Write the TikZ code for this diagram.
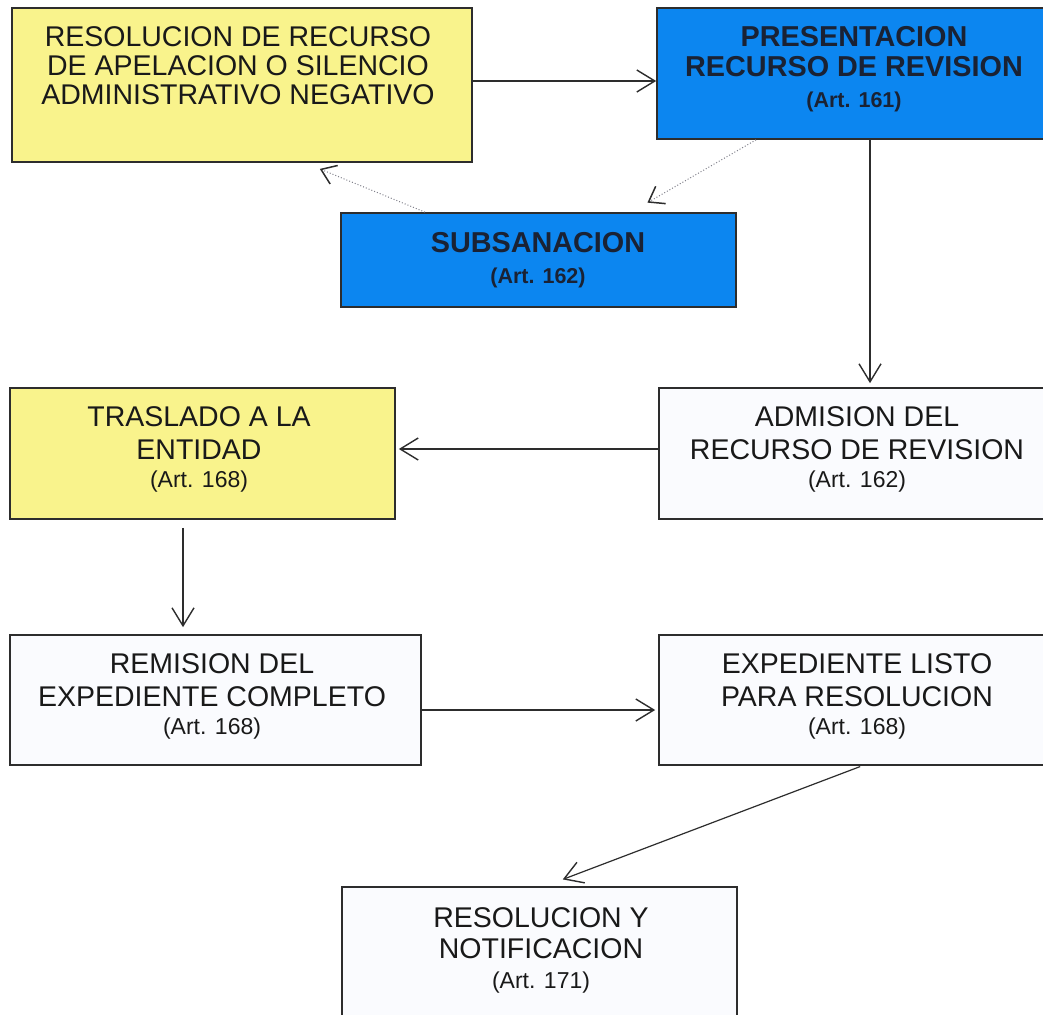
\documentclass[tikz,border=0pt]{standalone}
\usepackage{fontspec}
\setmainfont{Liberation Sans}
\usetikzlibrary{arrows.meta,calc}
\definecolor{boxyellow}{RGB}{249,243,140}
\definecolor{boxblue}{RGB}{12,134,240}
\definecolor{boxwhite}{RGB}{250,251,254}
\definecolor{edgecol}{RGB}{45,45,45}
\definecolor{ink}{RGB}{25,25,25}
\definecolor{blueink}{RGB}{26,34,52}
\definecolor{dotcol}{RGB}{130,130,140}
\begin{document}
\begin{tikzpicture}[x=1pt,y=-1pt,
  boxbase/.style={draw=edgecol, line width=1.7pt, inner sep=0pt, rectangle},
  ybox/.style={boxbase, fill=boxyellow},
  bbox/.style={boxbase, fill=boxblue},
  wbox/.style={boxbase, fill=boxwhite},
  maintxt/.style={font=\fontsize{28.5pt}{30pt}\selectfont, text=ink, inner sep=0pt, anchor=base},
  arttxt/.style={font=\fontsize{23pt}{25pt}\selectfont, text=ink, inner sep=0pt, anchor=base},
  bluetxt/.style={font=\bfseries\fontsize{28.8pt}{30pt}\selectfont, text=blueink, inner sep=0pt, anchor=base},
  blueart/.style={font=\bfseries\fontsize{21.5pt}{24pt}\selectfont, text=blueink, inner sep=0pt, anchor=base},
  flow/.style={draw=edgecol, line width=1.2pt, -{Straight Barb[length=18pt,width=22pt,line width=1.4pt]}},
  dotflow/.style={draw=dotcol, line width=1pt, dotted, -{Straight Barb[length=14pt,width=20pt,line width=1.5pt,color=edgecol]}}
]
\useasboundingbox (0,0) rectangle (1043,1014);
\fill[white] (0,0) rectangle (1043,1014);

% boxes
\node[ybox, minimum width=460pt, minimum height=154pt] (b1) at (242,85) {};
\node[bbox, minimum width=393pt, minimum height=131pt] (b2) at (853.5,73.5) {};
\node[bbox, minimum width=395pt, minimum height=94pt] (sub) at (538.5,260) {};
\node[ybox, minimum width=385pt, minimum height=131pt] (tra) at (202.5,453.5) {};
\node[wbox, minimum width=391pt, minimum height=131pt] (adm) at (854.5,453.5) {};
\node[wbox, minimum width=411pt, minimum height=130pt] (rem) at (215.5,700) {};
\node[wbox, minimum width=391pt, minimum height=130pt] (exp) at (854.5,700) {};
\node[wbox, minimum width=395pt, minimum height=138pt] (res) at (539.5,956) {};

% texts
\node[maintxt] (b1a) at (238,47) {RESOLUCION DE RECURSO};
\node[maintxt] (b1b) at (238,76) {DE APELACION O SILENCIO};
\node[maintxt] (b1c) at (238,105) {ADMINISTRATIVO NEGATIVO};

\node[bluetxt] (b2a) at (854,47) {PRESENTACION};
\node[bluetxt] (b2b) at (854,77) {RECURSO DE REVISION};
\node[blueart] (b2c) at (854,107) {(Art. 161)};

\node[bluetxt] (suba) at (538,252) {SUBSANACION};
\node[blueart] (subb) at (538,283) {(Art. 162)};

\node[maintxt] (traa) at (199,426) {TRASLADO A LA};
\node[maintxt] (trab) at (199,459) {ENTIDAD};
\node[arttxt] (trac) at (199,487) {(Art. 168)};

\node[maintxt] (adma) at (857,426) {ADMISION DEL};
\node[maintxt] (admb) at (857,459) {RECURSO DE REVISION};
\node[arttxt] (admc) at (857,487) {(Art. 162)};

\node[maintxt] (rema) at (212,673) {REMISION DEL};
\node[maintxt] (remb) at (212,706) {EXPEDIENTE COMPLETO};
\node[arttxt] (remc) at (212,734) {(Art. 168)};

\node[maintxt] (expa) at (857,673) {EXPEDIENTE LISTO};
\node[maintxt] (expb) at (857,706) {PARA RESOLUCION};
\node[arttxt] (expc) at (857,734) {(Art. 168)};

\node[maintxt] (resa) at (541,927) {RESOLUCION Y};
\node[maintxt] (resb) at (541,958) {NOTIFICACION};
\node[arttxt] (resc) at (541,988) {(Art. 171)};

% connectors
\draw[flow] (b1.east |- 0,81) -- (b2.west |- 0,81);
\draw[dotflow, shorten >=19pt] (b2.south -| 756,0) -- (sub.north -| 631,0);
\draw[dotflow, shorten >=16pt] (sub.north -| 425,0) -- (b1.south -| 305,0);
\draw[flow, shorten >=4pt] (b2.south -| 870,0) -- (adm.north -| 870,0);
\draw[flow, shorten >=3pt] (adm.west |- 0,449) -- (tra.east |- 0,449);
\draw[flow, shorten <=8pt, shorten >=7pt] (tra.south -| 183,0) -- (rem.north -| 183,0);
\draw[flow, shorten >=3pt] (rem.east |- 0,710) -- (exp.west |- 0,710);
\draw[flow, shorten <=2pt, shorten >=19pt] (exp.south -| 862,0) -- (res.north -| 545,0);
\end{tikzpicture}
\end{document}
